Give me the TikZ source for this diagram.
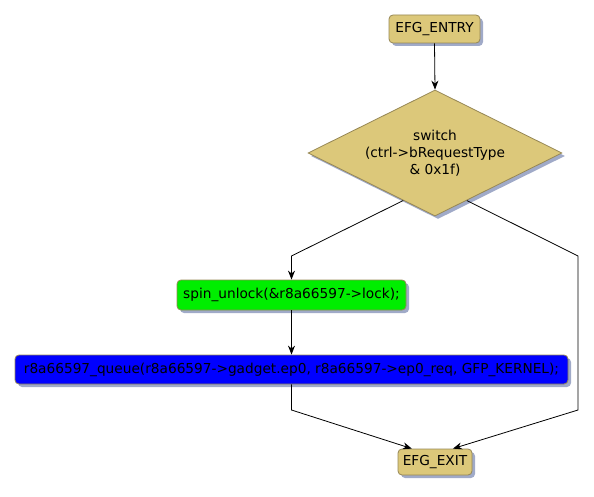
\documentclass[tikz,border=0pt]{standalone}
\usepackage{fontspec}
\setmainfont{DejaVu Sans}
\usetikzlibrary{shapes.geometric,shadows,arrows.meta,calc}
\definecolor{gold}{RGB}{220,200,122}
\definecolor{goldedge}{RGB}{150,135,85}
\definecolor{shadowc}{RGB}{160,170,200}
\definecolor{limeg}{RGB}{0,238,0}
\definecolor{bluef}{RGB}{0,0,255}
\tikzset{
  shd/.style={drop shadow={shadow xshift=3pt,shadow yshift=-3pt,fill=shadowc,opacity=1}},
  box/.style={rectangle,rounded corners=4pt,draw=goldedge,line width=0.8pt,shd,
    inner sep=0pt,font=\fontsize{13.7}{16.5}\selectfont,text=black},
  conn/.style={draw=black,line width=0.8pt},
  arr/.style={conn,-{Stealth[length=9pt,width=7pt]}},
}
\begin{document}
\begin{tikzpicture}[x=1pt,y=-1pt]
\useasboundingbox (0,0) rectangle (594,497);
\node[box,fill=gold,minimum width=91pt,minimum height=28pt] (entry) at (434.5,29) {EFG\_ENTRY};
\node[diamond,draw=goldedge,fill=gold,line width=0.8pt,shd,shape aspect=2,inner sep=0pt,
  minimum width=254pt,minimum height=126pt] (sw) at (435,153) {};
\node[align=center,font=\fontsize{13.7}{17}\selectfont] (swt) at (sw.center) {switch\\(ctrl->bRequestType\\\& 0x1f)};
\node[box,fill=limeg,minimum width=229pt,minimum height=30pt] (spin) at (291.5,295) {spin\_unlock(\&r8a66597->lock);};
\node[box,fill=bluef,minimum width=553pt,minimum height=29pt] (queue) at (291.5,369.5) {r8a66597\_queue(r8a66597->gadget.ep0, r8a66597->ep0\_req, GFP\_KERNEL);};
\node[box,fill=gold,minimum width=74pt,minimum height=26pt] (exit) at (435,462) {EFG\_EXIT};
\coordinate (sl) at ($(sw.west)!0.75!(sw.south)$);
\coordinate (sr) at ($(sw.east)!0.75!(sw.south)$);
\coordinate (l1) at (291.5,256);
\coordinate (r1) at (578,256);
\coordinate (r2) at (578,410);
\coordinate (l2) at (291.5,410);
\coordinate (el) at ($(exit.north west)!0.19!(exit.north east)$);
\coordinate (er) at ($(exit.north west)!0.74!(exit.north east)$);
\draw[arr] (entry.south) -- (sw.north);
\draw[arr] (sl) -- (l1) -- (spin.north);
\draw[arr] (sr) -- (r1) -- (r2) -- (er);
\draw[arr] (spin.south) -- (queue.north);
\draw[arr] (queue.south) -- (l2) -- (el);
\end{tikzpicture}
\end{document}
